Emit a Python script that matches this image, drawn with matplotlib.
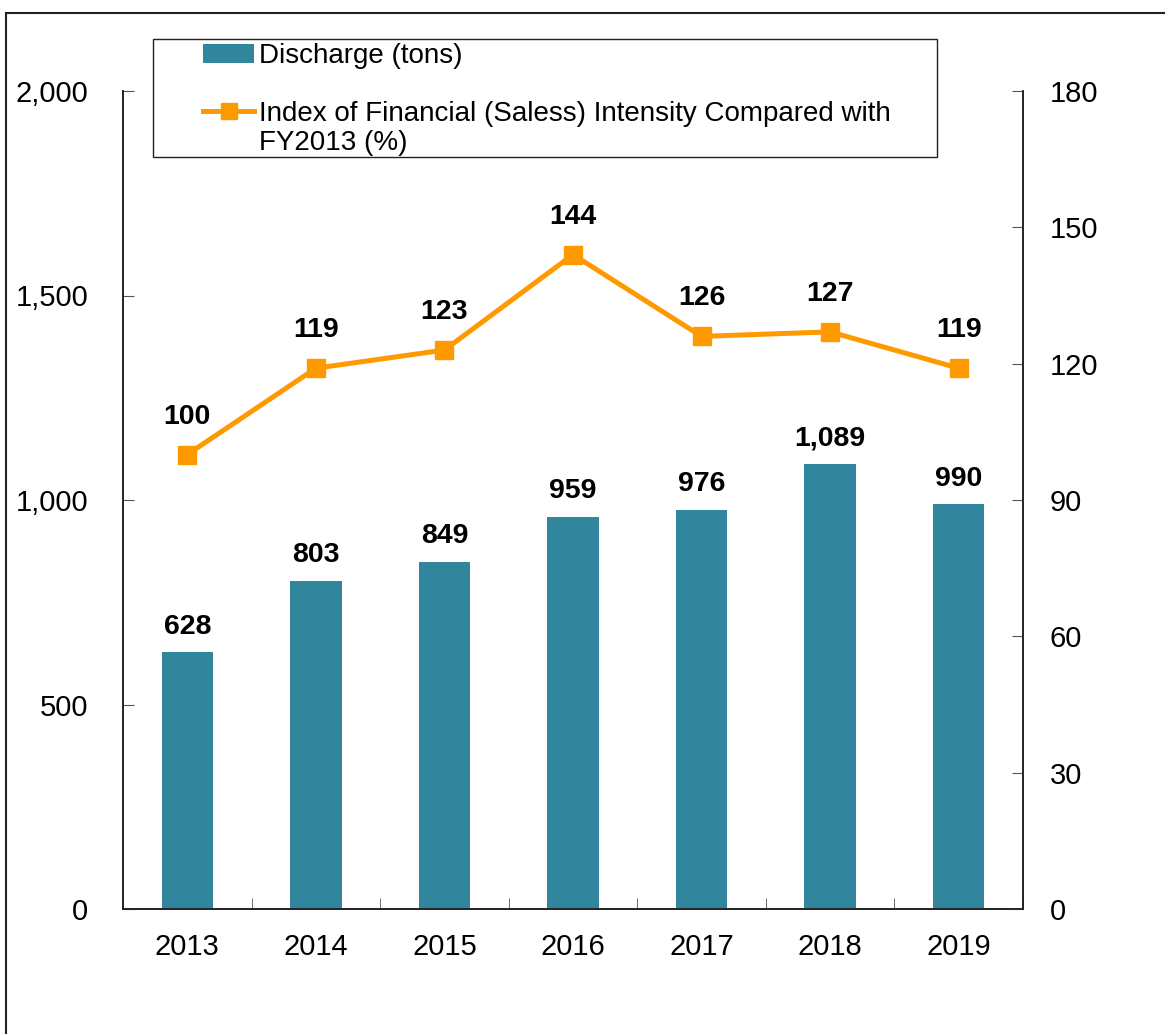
import numpy as np
import matplotlib.pyplot as plt
from matplotlib.patches import Rectangle

plt.rcParams['font.family'] = ['Liberation Sans', 'DejaVu Sans']

# dados do gráfico
anos = ['2013', '2014', '2015', '2016', '2017', '2018', '2019']
descarga = [628, 803, 849, 959, 976, 1089, 990]
indice = [100, 119, 123, 144, 126, 127, 119]

cor_barra = '#31859C'
cor_linha = '#FF9900'

W, H = 1165, 1034
fig = plt.figure(figsize=(W / 100, H / 100), dpi=100)
ax = fig.add_axes([123/W, 125/H, 900/W, 818/H])
ax2 = ax.twinx()

x = np.arange(len(anos))
barras = ax.bar(x, descarga, width=0.4, color=cor_barra, label='Discharge (tons)', zorder=2)
linha, = ax2.plot(x, indice, color=cor_linha, lw=3.6, marker='s', ms=13,
                  label='Index of Financial (Saless) Intensity Compared with', zorder=3)

# rótulos das barras
for xi, v in zip(x, descarga):
    ax.annotate(f'{v:,}', (xi, v), xytext=(0, 9), textcoords='offset points',
                ha='center', va='bottom', fontsize=20.5, fontweight='bold')
# rótulos da linha
for xi, v in zip(x, indice):
    ax2.annotate(f'{v}', (xi, v), xytext=(0, 18), textcoords='offset points',
                 ha='center', va='bottom', fontsize=20.5, fontweight='bold')

ax.set_xlim(-0.5, 6.5)
ax.set_ylim(0, 2000)
ax2.set_ylim(0, 180)
ax.set_yticks([0, 500, 1000, 1500, 2000])
ax.set_yticklabels(['0', '500', '1,000', '1,500', '2,000'])
ax2.set_yticks([0, 30, 60, 90, 120, 150, 180])

ax.set_xticks(x)
ax.set_xticklabels(anos)
ax.set_xticks(np.arange(-0.5, 7, 1), minor=True)
ax.tick_params(axis='x', which='major', length=0, pad=17, labelsize=21)
ax.tick_params(axis='x', which='minor', direction='in', length=8, color='#555555')
ax.tick_params(axis='y', direction='in', length=8, pad=25, labelsize=21, color='#555555')
ax2.tick_params(axis='y', direction='in', length=8, pad=19, labelsize=21, color='#555555')

for a in (ax, ax2):
    a.spines['top'].set_visible(False)
    for s in ('left', 'right', 'bottom'):
        a.spines[s].set_linewidth(1.2)
        a.spines[s].set_color('#222222')

# legenda: entradas sem moldura, moldura e segunda linha do texto à parte
leg = fig.legend(handles=[barras, linha], loc='upper left',
                 bbox_to_anchor=(203/W, 1 - 43/H), bbox_transform=fig.transFigure,
                 fontsize=20, frameon=False, handlelength=1.85, handletextpad=0.18,
                 borderpad=0, labelspacing=1.15, borderaxespad=0, markerscale=0.85)
fig.text(259/W, 1 - 143/H, 'FY2013 (%)', fontsize=20, ha='left', va='center')
fig.patches.append(Rectangle((153/W, 1 - 157/H), 784/W, 118/H, transform=fig.transFigure,
                             fill=False, edgecolor='#222222', lw=1.0))

# moldura externa
fig.patches.append(Rectangle((6/W, -0.1), 1.2, 1 - 13/H + 0.1, transform=fig.transFigure,
                             fill=False, edgecolor='#222222', lw=1.5))

fig.savefig('out.png', dpi=100)
